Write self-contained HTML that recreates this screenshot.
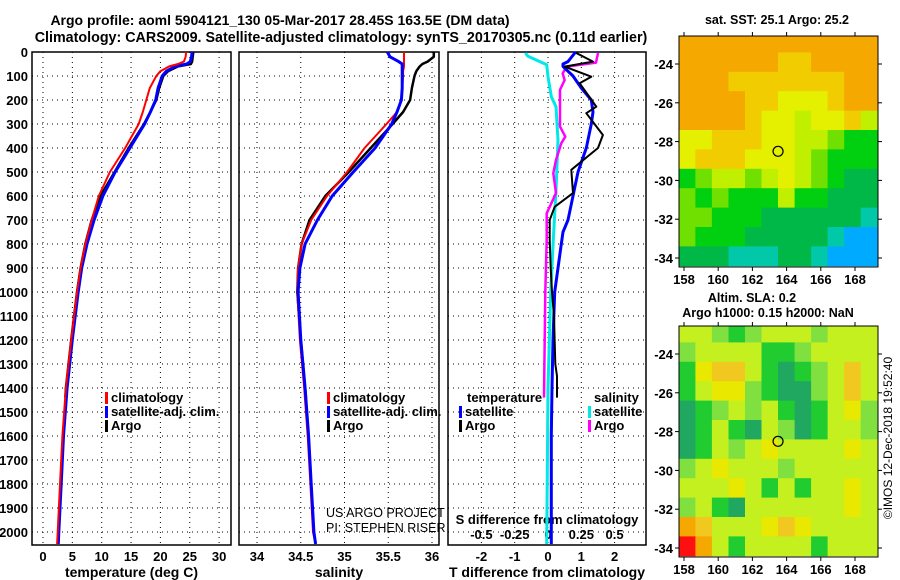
<!DOCTYPE html>
<html><head><meta charset="utf-8"><style>
body{margin:0;background:#fff;}
svg{display:block;font-family:"Liberation Sans",sans-serif;font-weight:bold;}
</style></head><body>
<svg id="c" width="900" height="580" viewBox="0 0 900 580" xmlns="http://www.w3.org/2000/svg">
<text x="280" y="25" text-anchor="middle" font-size="14">Argo profile: aoml 5904121_130 05-Mar-2017 28.45S 163.5E (DM data)</text>
<text x="341" y="42" text-anchor="middle" font-size="14.3">Climatology: CARS2009. Satellite-adjusted climatology: synTS_20170305.nc (0.11d earlier)</text>
<text x="777" y="24" text-anchor="middle" font-size="12.5">sat. SST: 25.1 Argo: 25.2</text>
<text x="752" y="302" text-anchor="middle" font-size="12.5">Altim. SLA: 0.2</text>
<text x="768" y="317" text-anchor="middle" font-size="12.5">Argo h1000: 0.15 h2000: NaN</text>
<text transform="translate(892,438) rotate(-90)" text-anchor="middle" font-size="12" font-weight="normal">©IMOS 12-Dec-2018 19:52:40</text>
</svg>
<script>
const svg=document.getElementById('c');
const NS='http://www.w3.org/2000/svg';
function mk(tag,attrs,parent){const e=document.createElementNS(NS,tag);for(const k in attrs)e.setAttribute(k,attrs[k]);(parent||svg).appendChild(e);return e;}

// ---------- data ----------
const depthTicks=[0,100,200,300,400,500,600,700,800,900,1000,1100,1200,1300,1400,1500,1600,1700,1800,1900,2000];
const tempTicks=[0,5,10,15,20,25,30];
const salTicks=[34,34.5,35,35.5,36];
const salTickLabels=['34','34.5','35','35.5','36'];
const diffTicks=[-2,-1,0,1,2];
const sdiffTicks=[-0.5,-0.25,0,0.25,0.5];
const sdiffTickLabels=['-0.5','-0.25','0','0.25','0.5'];

const climDepth=[0,20,40,50,60,80,100,150,200,250,300,400,500,600,700,800,900,1000,1200,1400,1600,1800,2000,2050];
const climTemp=[24.4,24.3,24.0,23.0,21.5,20.0,19.3,18.2,17.6,17.0,16.3,14.0,11.4,9.5,8.3,7.2,6.4,5.8,4.8,3.9,3.3,2.9,2.5,2.4];
const satTemp=[25.4,25.3,25.1,24.5,22.5,21.0,20.3,19.6,19.2,18.3,17.3,14.8,12.3,10.2,8.7,7.5,6.6,6.0,5.0,4.1,3.5,3.1,2.7,2.6];
const climSal=[35.68,35.68,35.68,35.68,35.68,35.67,35.67,35.66,35.65,35.6,35.48,35.23,35.03,34.8,34.62,34.51,34.47,34.46,34.49,34.54,34.58,34.61,34.64,34.67];
const satSal=[35.49,35.52,35.62,35.66,35.66,35.66,35.66,35.66,35.65,35.6,35.54,35.35,35.1,34.86,34.69,34.55,34.49,34.47,34.5,34.55,34.59,34.62,34.65,34.67];
const argoDepth=[0,20,40,50,60,80,100,150,200,250,300,400,500,600,700,800,900,1000,1200,1400,1440];
const argoTemp=[25.6,25.5,25.4,25.2,23.0,21.3,20.5,19.8,19.3,18.3,17.2,14.6,12.2,9.8,8.3,7.2,6.4,5.8,4.8,3.9,3.8];
const argoSal=[36.02,36.02,35.95,35.89,35.86,35.82,35.8,35.77,35.75,35.67,35.55,35.3,35.05,34.78,34.6,34.51,34.47,34.46,34.5,34.55,34.56];

const tSatDepth=[0,40,50,60,100,150,200,250,300,400,500,600,700,750,800,900,1000,1200,1400,1600,1800,2000,2050];
const tSatDiff=[0.83,0.6,0.45,0.45,0.75,1.0,1.3,1.35,1.3,1.15,0.9,0.75,0.6,0.45,0.4,0.3,0.2,0.15,0.12,0.1,0.1,0.1,0.1];
const tArgoDepth=[4,40,61,103,130,228,255,346,400,491,588,645,700,783,900,1000,1100,1300,1350,1440];
const tArgoDiff=[0.85,1.35,0.5,1.3,0.95,1.45,1.15,1.65,1.5,0.7,0.75,0.2,0.05,0.05,0.08,0.12,0.18,0.22,0.27,0.27];
const sArgoDepth=[4,44,61,89,117,158,228,311,353,380,450,505,588,672,783,1000,1200,1440];
const sArgoDiff=[0.375,0.36,0.14,0.11,0.125,0.09,0.09,0.09,0.13,0.1,0.06,0.04,0.06,-0.01,-0.01,-0.02,-0.025,-0.03];
const sSatDepth=[4,18,53,103,186,228,367,575,783,1000,1400,2050];
const sSatDiff=[-0.17,-0.15,-0.01,0,0.025,0.06,0.075,0.06,0.04,0.02,0,-0.01];

const sstRows=[
"888888888888","888888778888","888777777788","888877666788","888876656675",
"667776655433","677766654333","345545654322","434333533222","443332222221",
"433322222100","222111221000"];
const slaRows=[
"332123332333","233331123333","145531012353","134421002353","012323101342",
"013103201332","013234333343","234333233333","333431313343","231033333343",
"653334543333","763133331333"];
const sstColors=['#00aaff','#00c8a8','#00b848','#00d010','#70e000','#c0f000','#e4f000','#f0cc00','#f4a800'];
const slaColors=['#20a860','#20cc30','#80e040','#c4f020','#e8e800','#f0c820','#f4a800','#ff1010'];
const mapLonTicks=[158,160,162,164,166,168];
const mapLatTicks=[-24,-26,-28,-30,-32,-34];
const profLon=163.5, profLat=-28.5;

// ---------- profile axes ----------
const yD=d=>52+d*0.24;
const panels=[
 {x0:32,x1:231,f:v=>43+v*5.87,ticks:tempTicks,labels:tempTicks.map(String),title:'temperature (deg C)',name:'temperature'},
 {x0:239,x1:439,f:v=>257+(v-34)*87.5,ticks:salTicks,labels:salTickLabels,title:'salinity',name:'salinity'},
 {x0:448,x1:646,f:v=>548+v*33.3,ticks:diffTicks,labels:diffTicks.map(String),title:'T difference from climatology',name:'difference'}
];
const yTop=52,yBot=545;
panels.forEach((p,i)=>{
  const g=mk('g',{});
  
  
  p.ticks.forEach((t,j)=>{
    const x=p.f(t);
    const l=mk('line',{x1:x,x2:x,y1:yTop,y2:yBot,stroke:'#000','stroke-width':1,'stroke-dasharray':'1,4'},g);
    
    
    const tx=mk('text',{x:x,y:561,'text-anchor':'middle','font-size':13},g);
    tx.textContent=p.labels[j];
    
    
  });
  depthTicks.forEach(d=>{
    if(d===0)return;
    const l=mk('line',{x1:p.x0,x2:p.x1,y1:yD(d),y2:yD(d),stroke:'#000','stroke-width':1,'stroke-dasharray':'1,4'},g);
    
    
  });
  const r=mk('rect',{x:p.x0,y:yTop,width:p.x1-p.x0,height:yBot-yTop,fill:'none',stroke:'#000','stroke-width':1.5},g);
  
  
  const at=mk('text',{x:(p.x0+p.x1)/2,y:577,'text-anchor':'middle','font-size':14},g);
  at.textContent=p.title;
  
  
});
depthTicks.forEach(d=>{
  const t=mk('text',{x:28,y:yD(d)+5,'text-anchor':'end','font-size':13});
  t.textContent=String(d);
  
  
});
sdiffTicks.forEach((s,j)=>{
  const t=mk('text',{x:panels[2].f(s*4),y:539,'text-anchor':'middle','font-size':13});
  t.textContent=sdiffTickLabels[j];
  
  
});
{const t=mk('text',{x:547,y:524,'text-anchor':'middle','font-size':13});
t.textContent='S difference from climatology';

}

function line(xs,ds,fx,color,w,name){
  const pts=xs.map((v,i)=>fx(v).toFixed(1)+','+yD(ds[i]).toFixed(1)).join(' ');
  const pl=mk('polyline',{points:pts,fill:'none',stroke:color,'stroke-width':w,'stroke-linejoin':'round'});
  
  
}
const P=panels;
line(argoTemp,argoDepth,P[0].f,'#000',2.5,'argo-temperature-line');
line(satTemp,climDepth,P[0].f,'#0000ff',3,'satellite-temperature-line');
line(climTemp,climDepth,P[0].f,'#ff0000',2,'climatology-temperature-line');
line(argoSal,argoDepth,P[1].f,'#000',2.5,'argo-salinity-line');
line(climSal,climDepth,P[1].f,'#ff0000',2,'climatology-salinity-line');
line(satSal,climDepth,P[1].f,'#0000ff',3,'satellite-salinity-line');
line(sSatDiff.map(v=>v*4),sSatDepth,P[2].f,'#00e8e8',3,'satellite-s-diff-line');
line(sArgoDiff.map(v=>v*4),sArgoDepth,P[2].f,'#ff00ff',2.5,'argo-s-diff-line');
line(tSatDiff,tSatDepth,P[2].f,'#0000ff',3,'satellite-t-diff-line');
line(tArgoDiff,tArgoDepth,P[2].f,'#000',2,'argo-t-diff-line');

function legItem(x,y,color,label,name){
  const g=mk('g',{});
  
  
  mk('rect',{x:x,y:y-10,width:3,height:12,fill:color},g);
  const t=mk('text',{x:x+6,y:y,'font-size':13},g);t.textContent=label;
}
[[105,'climatology','#ff0000'],[105,'satellite-adj. clim.','#0000ff'],[105,'Argo','#000']].forEach((a,i)=>{
  legItem(a[0],402+i*14,a[2],a[1],'legend-entry-temp-'+i);
  legItem(a[0]+222,402+i*14,a[2],a[1],'legend-entry-sal-'+i);
});
{const t=mk('text',{x:467,y:402,'font-size':13});t.textContent='temperature';

const t2=mk('text',{x:594,y:402,'font-size':13});t2.textContent='salinity';
}
legItem(459,416,'#0000ff','satellite','legend-t-satellite');
legItem(459,430,'#000','Argo','legend-t-argo');
legItem(588,416,'#00e8e8','satellite','legend-s-satellite');
legItem(588,430,'#ff00ff','Argo','legend-s-argo');
[['US ARGO PROJECT',517],['PI: STEPHEN RISER',532]].forEach((a,i)=>{
  const t=mk('text',{x:326,y:a[1],'font-size':12.5,'font-weight':'normal'});t.textContent=a[0];
  
});

// ---------- maps ----------
function drawMap(rows,colors,yOff,name){
  const X0=679,X1=878,Y0=yOff-28,Y1=yOff+203;
  const fx=lon=>684+(lon-158)*17.1;
  const fy=lat=>yOff+(-24-lat)*19.4;
  const g=mk('g',{});
  
  
  const cid='clip'+yOff;
  const cp=mk('clipPath',{id:cid},g);mk('rect',{x:X0,y:Y0,width:X1-X0,height:Y1-Y0},cp);
  const cg=mk('g',{'clip-path':'url(#'+cid+')'},g);
  const lonStart=157.7, dLon=(169.3-157.7)/12;
  rows.forEach((row,i)=>{
    const latTop=-22.4-i, latBot=latTop-1;
    for(let j=0;j<row.length;j++){
      const v=+row[j];
      const x=fx(lonStart+j*dLon), x2=fx(lonStart+(j+1)*dLon);
      const c=mk('rect',{x:x.toFixed(1),y:fy(latTop).toFixed(1),width:(x2-x+0.5).toFixed(1),height:(fy(latBot)-fy(latTop)+0.5).toFixed(1),fill:colors[v]},cg);
      
      
    }
  });
  const fr=mk('rect',{x:X0,y:Y0,width:X1-X0,height:Y1-Y0,fill:'none',stroke:'#000','stroke-width':1},g);
  
  const circ=mk('circle',{cx:fx(profLon),cy:fy(profLat),r:5,fill:'none',stroke:'#000','stroke-width':1.2},g);
  
  mapLonTicks.forEach(l=>{
    mk('line',{x1:fx(l),x2:fx(l),y1:Y0-4,y2:Y0,stroke:'#000'},g);
    mk('line',{x1:fx(l),x2:fx(l),y1:Y1,y2:Y1+4,stroke:'#000'},g);
    const t=mk('text',{x:fx(l),y:Y1+17,'text-anchor':'middle','font-size':13},g);t.textContent=String(l);
    
  });
  mapLatTicks.forEach(l=>{
    mk('line',{x1:X0-4,x2:X0,y1:fy(l),y2:fy(l),stroke:'#000'},g);
    mk('line',{x1:X1,x2:X1+4,y1:fy(l),y2:fy(l),stroke:'#000'},g);
    const t=mk('text',{x:673,y:fy(l)+5,'text-anchor':'end','font-size':13},g);t.textContent=String(l);
    
  });
}
drawMap(sstRows,sstColors,64,'sst-map');
drawMap(slaRows,slaColors,354,'sla-map');
</script>
</body></html>
